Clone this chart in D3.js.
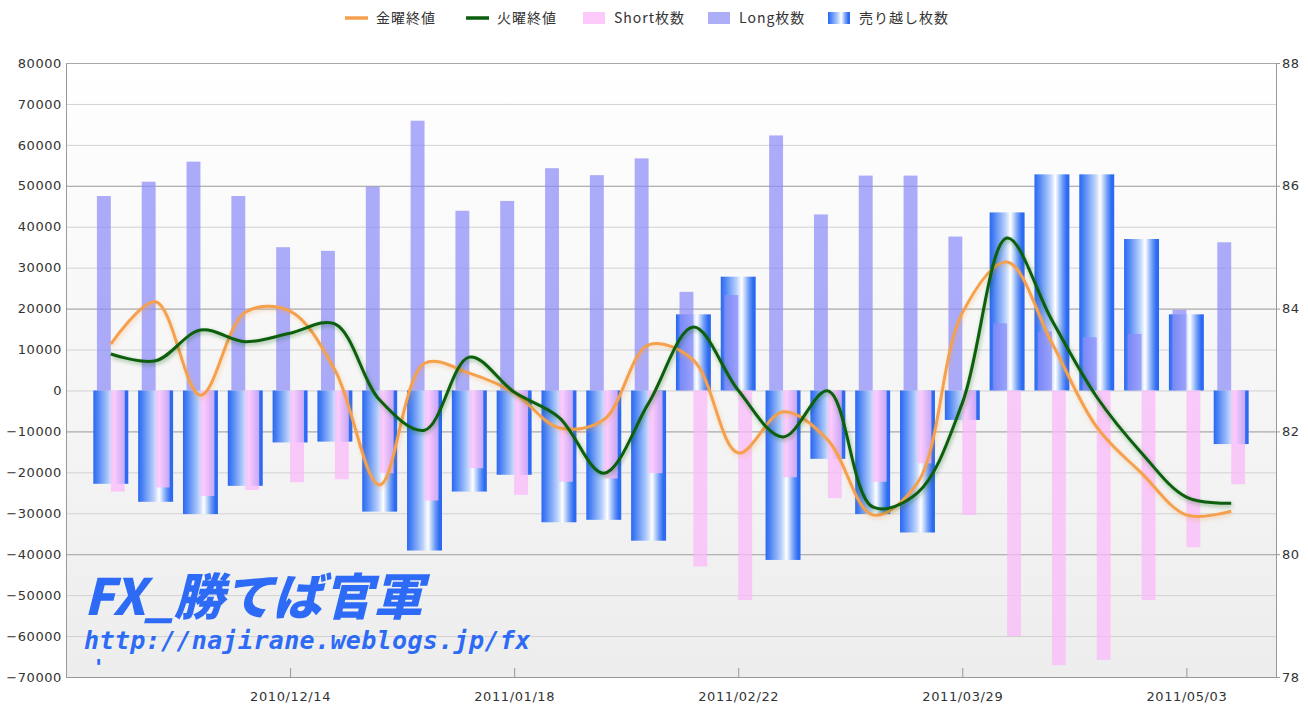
<!DOCTYPE html>
<html><head><meta charset="utf-8">
<script src="https://cdn.jsdelivr.net/npm/d3@7"></script>
<style>body{margin:0;background:#fff;overflow:hidden}</style>
</head><body><svg id="c" width="1308" height="706"></svg>
<script>
const dates = ["2010/11/16","2010/11/23","2010/11/30","2010/12/07","2010/12/14","2010/12/21","2010/12/28","2011/01/04","2011/01/11","2011/01/18","2011/01/25","2011/02/01","2011/02/08","2011/02/15","2011/02/22","2011/03/01","2011/03/08","2011/03/15","2011/03/22","2011/03/29","2011/04/05","2011/04/12","2011/04/19","2011/04/26","2011/05/03","2011/05/10"];
const tickLabels = ["2010/12/14","2011/01/18","2011/02/22","2011/03/29","2011/05/03"];
const leftTicks = [-70000,-60000,-50000,-40000,-30000,-20000,-10000,0,10000,20000,30000,40000,50000,60000,70000,80000];
const rightTicks = [78,80,82,84,86,88];
const longVals = [47500,51000,55900,47500,35000,34100,49800,65900,43900,46300,54300,52600,56700,24100,23300,62300,43000,52500,52500,37600,16400,14400,13000,13800,19700,36200];
const shortVals = [-24700,-23700,-25800,-24300,-22400,-21700,-20200,-26900,-19000,-25500,-22300,-21500,-20200,-43000,-51200,-21200,-26300,-22300,-17800,-30400,-60000,-67100,-65800,-51200,-38300,-22900];
const netVals = [-22800,-27200,-30200,-23300,-12700,-12500,-29600,-39100,-24700,-20600,-32200,-31600,-36700,18600,27800,-41400,-16700,-30200,-34700,-7200,43500,52800,52800,37000,18600,-13100];
const friClose = [83.42,84.11,82.59,83.94,83.96,83.00,81.13,83.11,82.95,82.63,82.06,82.19,83.41,83.16,81.65,82.32,81.86,80.64,81.16,83.93,84.76,83.44,82.07,81.32,80.64,80.70];
const tueClose = [83.26,83.15,83.65,83.46,83.60,83.75,82.51,82.02,83.21,82.64,82.23,81.32,82.46,83.70,82.67,81.91,82.66,80.77,81.00,82.46,85.15,83.81,82.56,81.65,80.93,80.83];
const seriesNames = ["金曜終値","火曜終値","Short枚数","Long枚数","売り越し枚数"];

const m = {l:66, r:1276, t:63, b:677};
const svg = d3.select('#c');
const defs = svg.append('defs');
const bg = defs.append('linearGradient').attr('id','bg').attr('x1',0).attr('y1',0).attr('x2',0).attr('y2',1);
bg.append('stop').attr('offset',0).attr('stop-color','#ffffff');
bg.append('stop').attr('offset',1).attr('stop-color','#ededed');
const ng = defs.append('linearGradient').attr('id','net').attr('x1',0).attr('y1',0).attr('x2',1).attr('y2',0);
[[0,'#2a68f2'],[0.12,'#4a82f4'],[0.45,'#b8d0fb'],[0.6,'#ffffff'],[0.8,'#6f9ef6'],[0.92,'#2f6cf2'],[1,'#2a68f2']]
  .forEach(s=>ng.append('stop').attr('offset',s[0]).attr('stop-color',s[1]));
const f = defs.append('filter').attr('id','sh').attr('x','-5%').attr('y','-20%').attr('width','110%').attr('height','140%');
f.append('feOffset').attr('in','SourceGraphic').attr('dx',1).attr('dy',2).attr('result','o');
f.append('feGaussianBlur').attr('in','o').attr('stdDeviation',2).attr('result','b');
f.append('feComponentTransfer').attr('in','b').attr('result','t').append('feFuncA').attr('type','linear').attr('slope',0.4);
const fm = f.append('feMerge'); fm.append('feMergeNode').attr('in','t'); fm.append('feMergeNode').attr('in','SourceGraphic');

const x = d3.scalePoint().domain(dates).range([m.l, m.r]).padding(1);
const step = x.step();
const yL = d3.scaleLinear().domain([-70000,80000]).range([m.b, m.t]);
const yR = d3.scaleLinear().domain([78,88]).range([m.b, m.t]);

svg.append('rect').attr('x',m.l).attr('y',m.t).attr('width',m.r-m.l).attr('height',m.b-m.t).attr('fill','url(#bg)');

// grid
svg.append('g').selectAll('line').data(leftTicks).join('line')
  .attr('x1',m.l).attr('x2',m.r).attr('y1',d=>yL(d)+0.5).attr('y2',d=>yL(d)+0.5)
  .attr('stroke','#d2d2d2').attr('stroke-width',1);
svg.append('g').selectAll('line').data(rightTicks).join('line')
  .attr('x1',m.l).attr('x2',m.r).attr('y1',d=>yR(d)+0.5).attr('y2',d=>yR(d)+0.5)
  .attr('stroke','#a8a8a8').attr('stroke-width',1);

// net bars
const bw = step*0.78, sw = step*0.31;
svg.append('g').selectAll('rect').data(netVals).join('rect')
  .attr('x',(d,i)=>x(dates[i])-bw/2).attr('width',bw)
  .attr('y',d=>yL(Math.max(0,d))).attr('height',d=>Math.abs(yL(d)-yL(0)))
  .attr('fill','url(#net)');
// long bars
svg.append('g').selectAll('rect').data(longVals).join('rect')
  .attr('x',(d,i)=>x(dates[i])-sw).attr('width',sw)
  .attr('y',d=>yL(d)).attr('height',d=>yL(0)-yL(d))
  .attr('fill','rgb(140,140,248)').attr('fill-opacity',0.72);
// short bars
svg.append('g').selectAll('rect').data(shortVals).join('rect')
  .attr('x',(d,i)=>x(dates[i])).attr('width',sw)
  .attr('y',yL(0)).attr('height',d=>yL(d)-yL(0))
  .attr('fill','rgb(250,185,250)').attr('fill-opacity',0.75);

// lines
const line = d3.line().x((d,i)=>x(dates[i])).y(d=>yR(d)).curve(d3.curveCatmullRom.alpha(0.5));
svg.append('path').datum(friClose).attr('d',line).attr('fill','none')
  .attr('stroke','#f5a04e').attr('stroke-width',3).attr('filter','url(#sh)');
svg.append('path').datum(tueClose).attr('d',line).attr('fill','none')
  .attr('stroke','#0b5e0b').attr('stroke-width',3).attr('filter','url(#sh)');

// axes
const axFont = '"DejaVu Sans", sans-serif';
const gl = svg.append('g').attr('transform',`translate(${m.l},0)`)
  .call(d3.axisLeft(yL).tickValues(leftTicks).tickFormat(d3.format('d')).tickSizeInner(0).tickSizeOuter(0).tickPadding(4));
const gr = svg.append('g').attr('transform',`translate(${m.r},0)`)
  .call(d3.axisRight(yR).tickValues(rightTicks).tickSizeInner(4).tickSizeOuter(0).tickPadding(2));
const gb = svg.append('g').attr('transform',`translate(0,${m.b})`)
  .call(d3.axisBottom(x).tickValues(tickLabels).tickSizeInner(-9).tickSizeOuter(0).tickPadding(15));
[gl,gr,gb].forEach(g=>{
  g.select('.domain').attr('stroke','#999');
  g.selectAll('.tick line').attr('stroke','#999');
  g.selectAll('text').attr('font-family',axFont).attr('font-size',13).attr('fill','#333').attr('letter-spacing',0.6);
});
gb.selectAll('text').attr('dy','0.71em');

// legend
const leg = svg.append('g').attr('font-family','"Noto Sans CJK JP", sans-serif').attr('font-size',14).attr('fill','#333');
const lx = [345, 466, 583, 708, 828];
seriesNames.forEach((n,i)=>{
  const g = leg.append('g').attr('transform',`translate(${lx[i]},18)`);
  if(i<2){
    g.append('line').attr('x1',0).attr('x2',23).attr('stroke',i==0?'#f5a04e':'#0b5e0b').attr('stroke-width',3.5);
  } else {
    g.append('rect').attr('x',0).attr('y',-6).attr('width',22).attr('height',12)
      .attr('fill', i==2?'#fccafa': i==3?'#aeaef8':'url(#net)');
  }
  g.append('text').attr('x',31).attr('dy','0.35em').attr('letter-spacing',1).text(n);
});

// watermark
const wm = svg.append('g').attr('fill','#2d6bf6').attr('font-style','italic');
wm.append('text').attr('x',84).attr('y',615).attr('font-family','"Noto Sans CJK JP", sans-serif')
  .attr('font-weight',900).attr('font-size',50).attr('letter-spacing',0).text('FX_勝てば官軍');
wm.append('text').attr('x',84).attr('y',649).attr('font-family','"DejaVu Sans Mono", monospace')
  .attr('font-weight','bold').attr('font-size',25).attr('letter-spacing',0.35).text('http://najirane.weblogs.jp/fx');
wm.append('text').attr('x',92).attr('y',675).attr('font-family','"DejaVu Sans Mono", monospace')
  .attr('font-weight','bold').attr('font-size',22).text("'");
</script></body></html>
